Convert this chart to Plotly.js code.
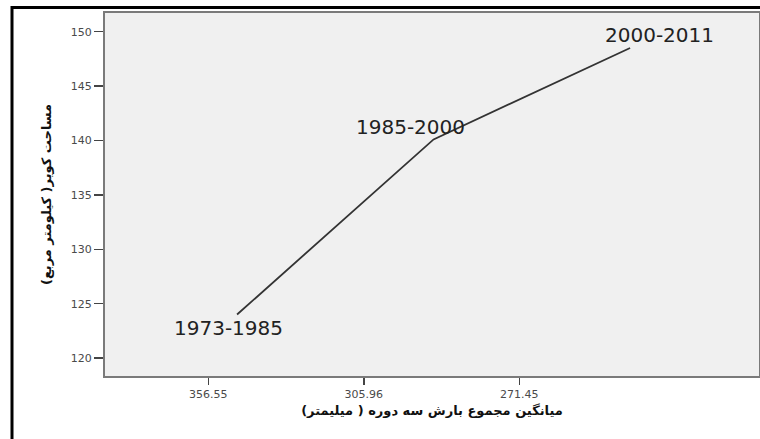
<!DOCTYPE html>
<html>
<head>
<meta charset="utf-8">
<script src="https://cdn.plot.ly/plotly-3.0.1.min.js"></script>
<style>
  html, body { margin: 0; padding: 0; background: #ffffff; }
  #chart { width: 760px; height: 439px; }
</style>
</head>
<body>
<div id="chart"></div>
<script>
// Categories (x tick labels: mean total precipitation per period, mm)
const precipLabels = ["356.55", "305.96", "271.45"];
// Periods used as point labels
const periods = ["1973-1985", "1985-2000", "2000-2011"];
// Desert area (km²) per period
const desertArea = [124.0, 140.1, 148.5];

const xTitle = "ميانگين مجموع بارش سه دوره ( ميليمتر)";
const yTitle = "مساحت کویر( کیلومتر مربع)";

const lineTrace = {
  x: precipLabels,
  y: desertArea,
  xaxis: "x2",
  yaxis: "y",
  type: "scatter",
  mode: "lines",
  line: { color: "#333333", width: 1.8 },
  hoverinfo: "skip",
  showlegend: false
};

// Invisible trace to carry the visible categorical tick axis
const tickTrace = {
  x: precipLabels,
  y: desertArea.map(() => null),
  xaxis: "x",
  yaxis: "y",
  type: "scatter",
  mode: "markers",
  marker: { opacity: 0 },
  hoverinfo: "skip",
  showlegend: false
};

const labelOffsets = [
  { xshift: -9, yshift: -13 },
  { xshift: -23, yshift: 12 },
  { xshift: 29, yshift: 13 }
];

const annotations = periods.map((p, i) => ({
  x: i,               // category index on the line's axis
  y: desertArea[i],
  xref: "x2",
  yref: "y",
  text: p,
  showarrow: false,
  xshift: labelOffsets[i].xshift,
  yshift: labelOffsets[i].yshift,
  font: { family: "DejaVu Sans, sans-serif", size: 20, color: "#222222" }
}));

const layout = {
  width: 760,
  height: 439,
  margin: { l: 105, r: 1, t: 13, b: 63, pad: 0 },
  paper_bgcolor: "#ffffff",
  plot_bgcolor: "#f0f0f0",
  showlegend: false,
  xaxis: {
    type: "category",
    range: [-0.664, 3.541],
    showgrid: false,
    zeroline: false,
    showline: true,
    mirror: true,
    linecolor: "#7a7a7a",
    linewidth: 2,
    ticks: "outside",
    ticklen: 7,
    tickwidth: 1.5,
    tickcolor: "#444444",
    tickfont: { family: "DejaVu Sans, sans-serif", size: 11, color: "#4a4a4a" },
    title: {
      text: xTitle,
      font: { family: "DejaVu Sans, sans-serif", size: 13, color: "#111111", weight: "bold" },
      standoff: 6
    },
    automargin: false,
    fixedrange: true
  },
  xaxis2: {
    type: "category",
    overlaying: "x",
    range: [-0.672, 2.656],
    visible: false,
    showgrid: false,
    zeroline: false,
    fixedrange: true
  },
  yaxis: {
    range: [118.35, 151.72],
    tickvals: [120, 125, 130, 135, 140, 145, 150],
    showgrid: false,
    zeroline: false,
    showline: true,
    mirror: true,
    linecolor: "#7a7a7a",
    linewidth: 2,
    ticks: "outside",
    ticklen: 9,
    tickwidth: 1.5,
    tickcolor: "#444444",
    tickfont: { family: "DejaVu Sans, sans-serif", size: 11, color: "#4a4a4a" },
    title: {
      text: yTitle,
      font: { family: "DejaVu Sans, sans-serif", size: 13, color: "#111111", weight: "bold" },
      standoff: 16
    },
    automargin: false,
    fixedrange: true
  },
  annotations: annotations,
  shapes: [
    {
      type: "path",
      xref: "paper",
      yref: "paper",
      path: "M -0.1422,-0.3 L -0.1422,1.0152 L 1.2,1.0152",
      line: { color: "#000000", width: 3 }
    }
  ]
};

Plotly.newPlot("chart", [tickTrace, lineTrace], layout, { displayModeBar: false, staticPlot: true });
</script>
</body>
</html>
